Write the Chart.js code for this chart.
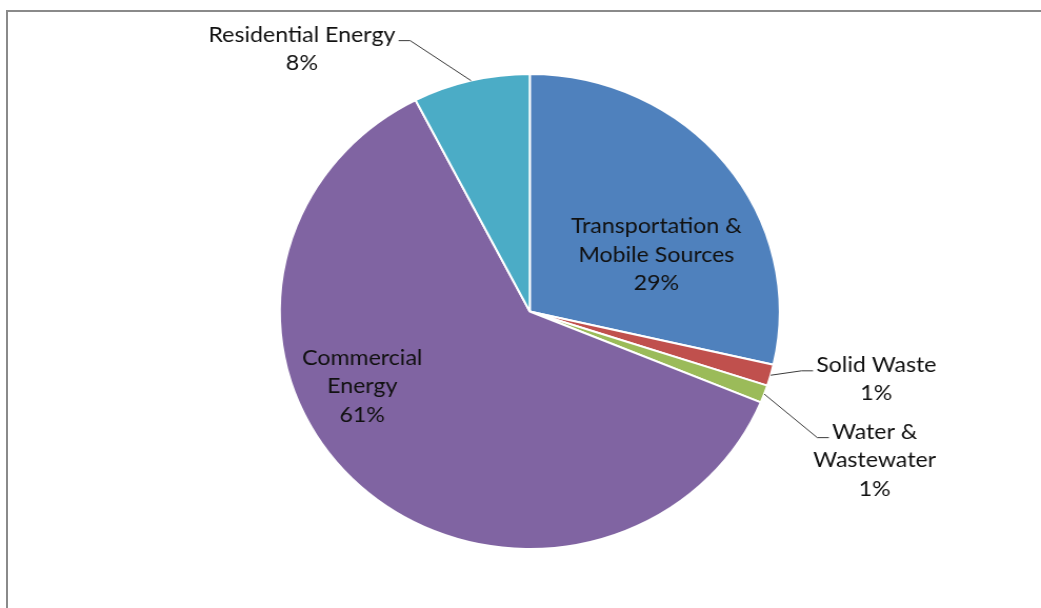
<!DOCTYPE html>
<html><head><meta charset="utf-8">
<script src="https://cdn.jsdelivr.net/npm/chart.js@4/dist/chart.umd.min.js"></script>
<style>
html,body{margin:0;padding:0;background:#fff;overflow:hidden;width:1041px;height:608px}
#frame{position:absolute;left:6px;top:10px;width:1100px;height:700px;border-left:2px solid #8a8a8a;border-top:2px solid #8a8a8a;}
#wrap{position:absolute;left:0;top:0;width:989px;height:608px;transform:scaleX(1.0526);transform-origin:0 0;}
</style></head>
<body>
<div id="frame"></div>
<div id="wrap"><canvas id="c"></canvas></div>
<script>
// ---- data ----
const categories = ['Transportation & Mobile Sources', 'Solid Waste', 'Water & Wastewater', 'Commercial Energy', 'Residential Energy'];
const values = [28.6, 1.45, 1.2, 61.2, 7.55];
const percentLabels = ['29%', '1%', '1%', '61%', '8%'];
const labelLines = [['Transportation &', 'Mobile Sources'], ['Solid Waste'], ['Water &', 'Wastewater'], ['Commercial', 'Energy'], ['Residential Energy']];
const colors = ['#4F81BD', '#C0504D', '#9BBB59', '#8064A2', '#4BACC6'];

// ---- label layout (angle clockwise from top in degrees, distance in radius units) ----
const labelPlacement = [
  {type: 'inside', angle: 64.7, dist: 0.56},
  {type: 'outside', angle: 101.6, dist: 1.415},
  {type: 'outside', angle: 114.4, dist: 1.515},
  {type: 'inside', angle: 244.9, dist: 0.74},
  {type: 'outside', angle: 320.5, dist: 1.433}
];
const FONT = '22px Lato, "Open Sans", sans-serif';
const LINE_H = 28.5;

const labelPlugin = {
  id: 'pieLabels',
  afterDatasetsDraw(chart) {
    const ctx = chart.ctx;
    const meta = chart.getDatasetMeta(0);
    ctx.save();
    ctx.font = FONT;
    ctx.fillStyle = '#111';
    ctx.textAlign = 'center';
    ctx.textBaseline = 'middle';
    meta.data.forEach((arc, i) => {
      const p = arc.getProps(['x', 'y', 'startAngle', 'endAngle', 'outerRadius'], true);
      const r = p.outerRadius;
      const pl = labelPlacement[i];
      const a = (pl.angle - 90) * Math.PI / 180;
      const cx = p.x + Math.cos(a) * pl.dist * r;
      const cy = p.y + Math.sin(a) * pl.dist * r;
      const lines = labelLines[i].concat([percentLabels[i]]);
      const y0 = cy - (lines.length - 1) * LINE_H / 2;
      lines.forEach((t, k) => ctx.fillText(t, cx, y0 + k * LINE_H));
      if (pl.type === 'outside') {
        const mid = (p.startAngle + p.endAngle) / 2;
        const sx = p.x + Math.cos(mid) * r;
        const sy = p.y + Math.sin(mid) * r;
        const w = ctx.measureText(lines[0]).width;
        const ly = y0 + 6;
        const right = cx > p.x;
        const endX = right ? cx - w / 2 - 3 : cx + w / 2 + 3;
        const elbowX = right ? endX - 11 : endX + 11;
        ctx.beginPath();
        ctx.strokeStyle = '#3a3a3a';
        ctx.lineWidth = 1;
        ctx.moveTo(sx, sy);
        ctx.lineTo(elbowX, ly);
        ctx.lineTo(endX, ly);
        ctx.stroke();
      }
    });
    ctx.restore();
  }
};

new Chart(document.getElementById('c'), {
  type: 'pie',
  data: {
    labels: categories,
    datasets: [{
      data: values,
      backgroundColor: colors,
      borderColor: '#ffffff',
      borderWidth: 2,
      hoverOffset: 0,
      radius: 237.5
    }]
  },
  options: {
    responsive: true,
    maintainAspectRatio: false,
    animation: false,
    layout: {padding: {left: 250, right: 232.4, top: 60, bottom: 45}},
    plugins: {legend: {display: false}, tooltip: {enabled: false}}
  },
  plugins: [labelPlugin]
});
</script>
</body></html>
